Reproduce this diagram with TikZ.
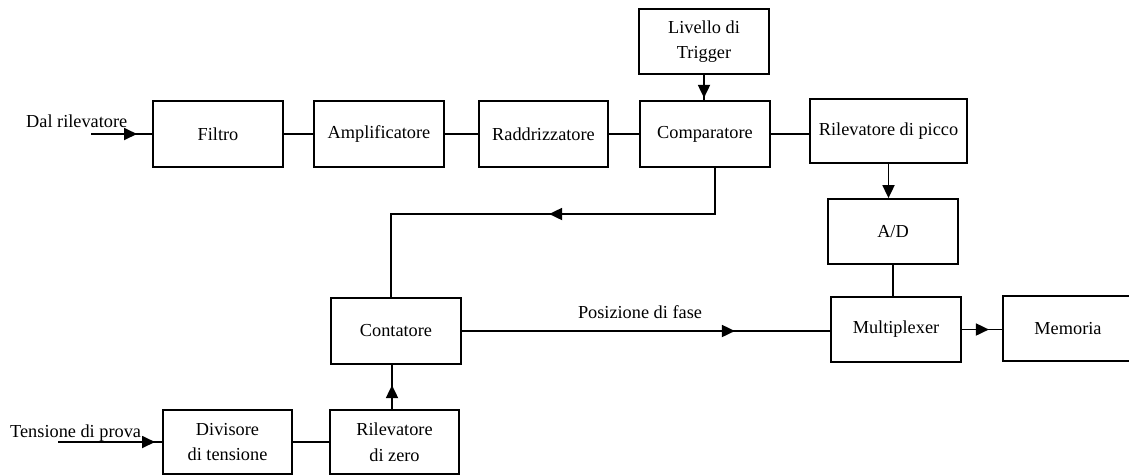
\documentclass[tikz,border=0pt]{standalone}
\usepackage{fontspec}
\setmainfont{Liberation Serif}
\usetikzlibrary{arrows.meta,decorations.markings}

\tikzset{
  blk/.style={draw, line width=1.8pt, inner sep=0pt, align=center,
              minimum width=130pt, minimum height=65pt},
  wire/.style={line width=1.8pt},
  midarrow/.style={postaction={decorate}, decoration={markings,
      mark=at position #1 with {\arrow{Triangle[length=13pt,width=12pt]}}}},
  lbl/.style={inner sep=0pt}
}

\begin{document}
\begin{tikzpicture}[x=1pt, y=-1pt,
    every node/.style={font=\fontsize{18.3}{25.5}\selectfont}]
  \useasboundingbox (0,0) rectangle (1129,475);

  % upper chain
  \node[blk, minimum height=66pt] (filtro) at (218,134) {Filtro};
  \node[blk, minimum height=66pt] (ampl)   at (379,134) {Amplificatore};
  \node[blk, minimum width=129pt, minimum height=66pt] (raddr) at (543.5,134) {Raddrizzatore};
  \node[blk, minimum height=66pt] (comp)   at (705,134) {Comparatore};
  \node[blk] (trig)   at (704,41.5) {Livello di\\Trigger};
  \node[blk, minimum width=157pt, minimum height=64pt] (picco) at (888.5,131) {Rilevatore di picco};
  \node[blk] (ad)     at (893,231.5) {A/D};
  \node[blk] (mux)    at (896,329.5) {Multiplexer};
  \node[blk] (mem)    at (1068,328.5) {Memoria};

  % lower chain
  \node[blk, minimum height=66pt] (cont) at (396,331) {Contatore};
  \node[blk, minimum width=129pt, minimum height=64pt] (zero) at (394.5,442) {Rilevatore\\di zero};
  \node[blk, minimum width=129pt, minimum height=64pt] (div)  at (227.5,442) {Divisore\\di tensione};

  % inputs
  \node[lbl, anchor=base west] (inlbl1) at (26,127) {Dal rilevatore};
  \node[lbl, anchor=base west] (inlbl2) at (10,437) {Tensione di prova};
  \coordinate (in1) at (91,134);
  \coordinate (in2) at (58,442);
  \draw[wire, midarrow=46pt] (in1) -- (in1 -| filtro.west);
  \draw[wire, midarrow=97pt] (in2) -- (in2 -| div.west);

  % signal path
  \draw[wire] (filtro.east) -- (filtro.east -| ampl.west);
  \draw[wire] (ampl.east) -- (ampl.east -| raddr.west);
  \draw[wire] (raddr.east) -- (raddr.east -| comp.west);
  \draw[wire] (comp.east) -- (comp.east -| picco.west);
  \draw[wire, midarrow=23pt] (trig.south) -- (trig.south |- comp.north);
  \draw[wire, -{Triangle[length=13pt,width=12pt]}] (picco.south) -- (picco.south |- ad.north);
  \draw[wire] (ad.south) -- (ad.south |- mux.north);
  \draw[wire, midarrow=27pt] (mux.east) -- (mux.east -| mem.west);

  % feedback from the comparator to the counter
  \coordinate (fbR) at (715,214);
  \coordinate (fbL) at (391,214);
  \draw[wire, midarrow=212pt] (fbR |- comp.south) -- (fbR) -- (fbL) -- (fbL |- cont.north);

  % phase position
  \draw[wire, midarrow=273pt] (cont.east) -- (cont.east -| mux.west);
  \node[lbl, anchor=base] (phase) at (640,318) {Posizione di fase};

  % zero detector and divider
  \draw[wire] (div.east) -- (div.east -| zero.west);
  \coordinate (zc) at (392,410);
  \draw[wire, midarrow=24pt] (zc |- zero.north) -- (zc |- cont.south);
\end{tikzpicture}
\end{document}
